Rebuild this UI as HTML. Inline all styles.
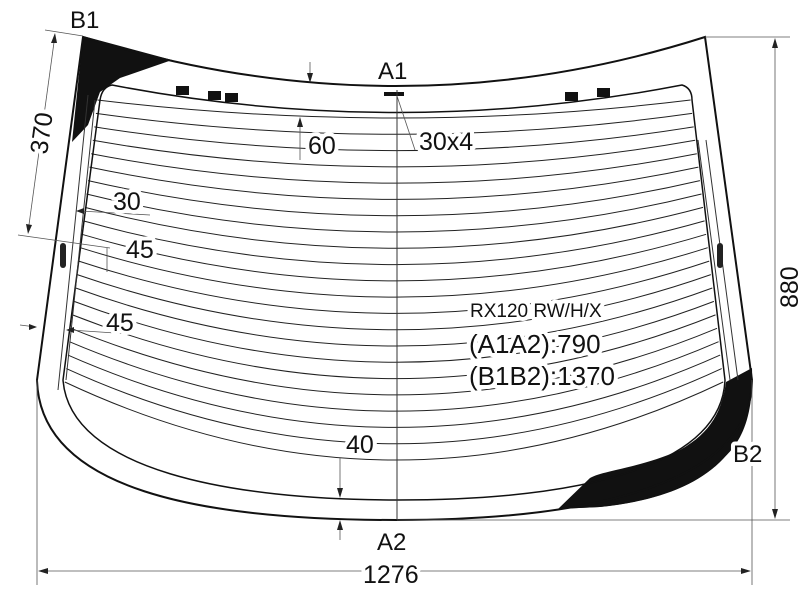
<!DOCTYPE html>
<html><head><meta charset="utf-8"><style>
html,body{margin:0;padding:0;background:#fff;}
svg{display:block;}
text{font-family:"Liberation Sans",Arial,sans-serif;fill:#111;stroke:#fff;stroke-width:8px;paint-order:stroke;stroke-linejoin:round;}
</style></head><body>
<svg id="s" width="800" height="600" viewBox="0 0 800 600" xmlns="http://www.w3.org/2000/svg">
<g id="lines" stroke="#222" stroke-width="1" fill="none"></g>
<path d="M83,36 L172,60 L120,78 L100,92 L88,125 L72,142 Z" fill="#111"/>
<path d="M752,368 C754,430 735,460 690,478 C650,492 610,492 580,502 L558,509 L600,507 C680,498 750,470 752,380 Z" fill="#111"/>
<path d="M752,368 L726,382 C722,410 712,432 680,450 C640,468 605,470 590,478 L558,509 L600,507 C690,498 752,462 752,380 Z" fill="#111"/>
<path d="M83,37 Q397,135 705,37 L752,380 C752,480 600,520 397,520 C200,520 40,490 37,380 Z" fill="none" stroke="#111" stroke-width="2"/>
<path d="M112,85 Q397,140 682,85 Q692,88 692,100 L725,380 C722,460 600,500 397,500 C230,500 70,470 63,380 L100,100 Q102,87 112,85 Z" fill="none" stroke="#111" stroke-width="1.5"/>
<path d="M88,95 L58,390 M95,100 L66,380" stroke="#333" fill="none"/>
<path d="M698,140 L730,380 M706,140 L738,380" stroke="#333" fill="none"/>
<rect x="60" y="243" width="6" height="25" rx="3" fill="#222"/>
<rect x="717" y="243" width="6" height="25" rx="3" fill="#222"/>
<rect x="176" y="86" width="13" height="9" fill="#111"/>
<rect x="208" y="91" width="13" height="9" fill="#111"/>
<rect x="225" y="93" width="13" height="9" fill="#111"/>
<rect x="384" y="92" width="20" height="4" fill="#111"/>
<rect x="565" y="92" width="13" height="9" fill="#111"/>
<rect x="597" y="88" width="13" height="9" fill="#111"/>
<line x1="397" y1="90" x2="397" y2="520" stroke="#333" stroke-width="1"/>
<g stroke="#555" stroke-width="0.8" fill="none">
<line x1="705" y1="37" x2="790" y2="37"/>
<line x1="397" y1="520" x2="790" y2="520"/>
<line x1="775" y1="42" x2="775" y2="515"/>
<line x1="37" y1="380" x2="37" y2="585"/>
<line x1="752" y1="380" x2="752" y2="585"/>
<line x1="42" y1="571" x2="747" y2="571"/>
<line x1="45" y1="30" x2="83" y2="36"/>
<line x1="18" y1="235" x2="110" y2="248"/>
<line x1="55" y1="35" x2="28" y2="232"/>
<line x1="300" y1="120" x2="300" y2="160"/>
<line x1="310" y1="62" x2="310" y2="80"/>
<line x1="340" y1="458" x2="340" y2="495"/>
<line x1="340" y1="525" x2="340" y2="540"/>
<line x1="80" y1="211" x2="150" y2="215"/>
<line x1="70" y1="330" x2="130" y2="334"/>
<line x1="20" y1="325" x2="36" y2="327"/>
<line x1="107" y1="248" x2="107" y2="272"/>
<line x1="397" y1="96" x2="415" y2="150"/>
</g>
<g fill="#222">
<path d="M775,38 L772,48 L778,48 Z"/>
<path d="M775,519 L772,509 L778,509 Z"/>
<path d="M38,571 L48,568 L48,574 Z"/>
<path d="M751,571 L741,568 L741,574 Z"/>
<path d="M55,33 L51,43 L57,43 Z"/>
<path d="M28,234 L26,224 L32,225 Z"/>
<path d="M300,117 L297,127 L303,127 Z"/>
<path d="M310,83 L307,73 L313,73 Z"/>
<path d="M340,498 L337,488 L343,488 Z"/>
<path d="M340,520 L337,530 L343,530 Z"/>
<path d="M76,211 L84,208 L84,214 Z"/>
<path d="M66,330 L74,327 L74,333 Z"/>
<path d="M37,327 L29,324 L29,330 Z"/>
</g>
<text x="70" y="28" font-size="24">B1</text>
<text x="378" y="79" font-size="24">A1</text>
<text x="308" y="154" font-size="25">60</text>
<text x="419" y="150" font-size="25">30x4</text>
<text x="113" y="210" font-size="25">30</text>
<text x="126" y="258" font-size="25">45</text>
<text x="106" y="331" font-size="25">45</text>
<text x="470" y="317" font-size="19">RX120 RW/H/X</text>
<text x="469" y="353" font-size="26">(A1A2):790</text>
<text x="469" y="385" font-size="26">(B1B2):1370</text>
<text x="346" y="453" font-size="25">40</text>
<text x="733" y="462" font-size="24">B2</text>
<text x="377" y="550" font-size="24">A2</text>
<text x="363" y="583" font-size="25">1276</text>
<text transform="translate(47,155) rotate(-82)" font-size="25">370</text>
<text transform="translate(798,308) rotate(-90)" font-size="25">880</text>
</svg>
<script>
var g=document.getElementById('lines'),d='';
var n=22;
for(var i=0;i<n;i++){
 var t=i/(n-1);
 var ye=100+t*282;
 var xl=98-(ye-95)*33/285, xr=690+(ye-95)*33/285;
 var sag=18+t*60;
 var yc=ye+2*sag;
 d+='M'+xl.toFixed(1)+','+ye.toFixed(1)+' Q397,'+yc.toFixed(1)+' '+xr.toFixed(1)+','+ye.toFixed(1)+' ';
}
var p=document.createElementNS('http://www.w3.org/2000/svg','path');
p.setAttribute('d',d);g.appendChild(p);
</script>
</body></html>
